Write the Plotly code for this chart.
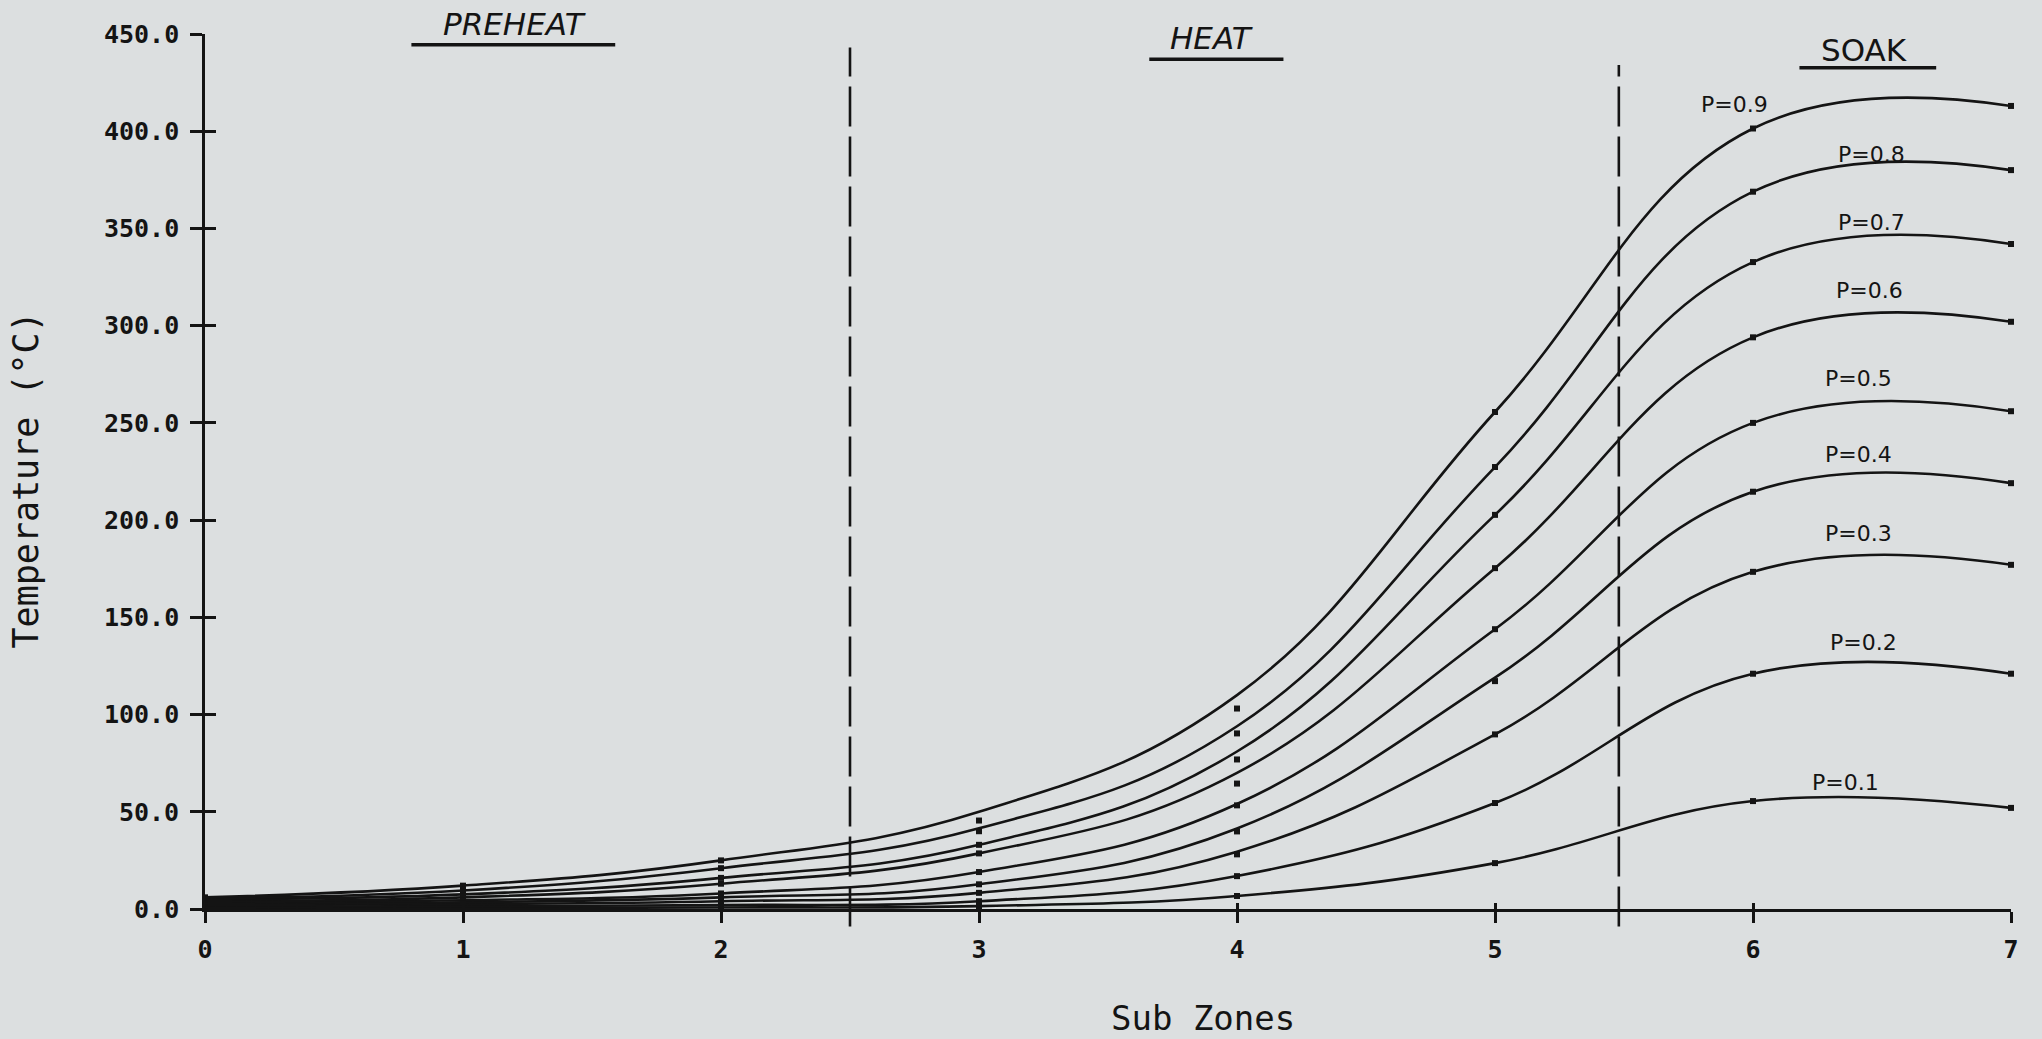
import plotly.graph_objects as go

# ---------------- data ----------------
sub_zones = [0, 1, 2, 3, 4, 5, 6, 7]
x_tick_labels = ["0", "1", "2", "3", "4", "5", "6", "7"]
y_tick_values = [0, 50, 100, 150, 200, 250, 300, 350, 400, 450]

p_labels = ["P=0.1", "P=0.2", "P=0.3", "P=0.4", "P=0.5",
            "P=0.6", "P=0.7", "P=0.8", "P=0.9"]

# plotted data points (dots) per power setting
temp_p01 = [0.5, 0.5, 0.8, 1.5, 6.7, 23.6, 55.5, 52.0]
temp_p02 = [1.0, 1.5, 2.0, 4.0, 16.9, 54.5, 121.0, 121.0]
temp_p03 = [2.0, 2.5, 4.0, 8.3, 28.1, 89.8, 173.4, 177.0]
temp_p04 = [3.0, 3.5, 6.0, 12.7, 39.9, 117.2, 214.6, 219.0]
temp_p05 = [3.5, 4.5, 8.0, 19.0, 53.3, 143.9, 250.0, 256.0]
temp_p06 = [4.0, 6.0, 13.0, 28.6, 64.5, 175.3, 294.0, 302.0]
temp_p07 = [5.0, 7.5, 16.0, 33.0, 76.9, 202.7, 332.7, 342.0]
temp_p08 = [5.5, 9.5, 21.0, 40.0, 90.3, 227.3, 368.9, 380.0]
temp_p09 = [6.0, 12.0, 25.0, 45.5, 103.1, 255.6, 401.4, 413.0]

# smoothed (fitted) curve values read at each sub zone
fit_p01 = [0.5, 0.5, 0.8, 1.5, 6.7, 23.6, 55.5, 52.0]
fit_p02 = [1.0, 1.5, 2.0, 4.0, 17.0, 54.5, 121.0, 121.0]
fit_p03 = [2.0, 2.5, 4.0, 8.3, 29.5, 89.8, 173.4, 177.0]
fit_p04 = [3.0, 3.5, 6.0, 12.7, 41.4, 119.0, 214.6, 219.0]
fit_p05 = [3.5, 4.5, 8.0, 19.0, 54.0, 143.9, 250.0, 256.0]
fit_p06 = [4.0, 6.0, 13.0, 28.6, 70.0, 175.3, 294.0, 302.0]
fit_p07 = [5.0, 7.5, 16.0, 33.0, 81.0, 202.7, 332.7, 342.0]
fit_p08 = [5.5, 9.5, 21.0, 41.5, 94.0, 227.3, 368.9, 380.0]
fit_p09 = [6.0, 12.0, 25.0, 50.0, 110.0, 255.6, 401.4, 413.0]

points = [temp_p01, temp_p02, temp_p03, temp_p04, temp_p05,
          temp_p06, temp_p07, temp_p08, temp_p09]
curves = [fit_p01, fit_p02, fit_p03, fit_p04, fit_p05,
          fit_p06, fit_p07, fit_p08, fit_p09]

zone_names = ["PREHEAT", "HEAT", "SOAK"]
zone_boundaries = [2.5, 5.48]

# ---------------- layout / style (not data) ----------------
BG = "#dcdfe0"
INK = "#141414"
label_pos = [(6.36, 65), (6.43, 137), (6.41, 193), (6.41, 234), (6.41, 273),
             (6.45, 318), (6.46, 353), (6.46, 388), (5.93, 414)]
# text x, text y, underline x0, x1, underline y, italic
zone_pos = [(1.20, 455, 0.80, 1.59, 444.5, True),
            (3.90, 448, 3.66, 4.18, 437.0, True),
            (6.43, 442, 6.18, 6.71, 432.6, False)]
boundary_tops = [443, 434]
Y_MAX = 450.0

fig = go.Figure()

for fit, pts in zip(curves, points):
    fig.add_trace(go.Scatter(
        x=sub_zones, y=fit, mode="lines",
        line=dict(color=INK, width=2.6, shape="spline", smoothing=1.2),
        cliponaxis=False, showlegend=False, hoverinfo="skip"))
    fig.add_trace(go.Scatter(
        x=sub_zones, y=pts, mode="markers",
        marker=dict(symbol="square", size=6, color=INK),
        cliponaxis=False, showlegend=False, hoverinfo="skip"))

# helper trace so the overlay axes (inner half of the crossing ticks) exist
fig.add_trace(go.Scatter(x=[None], y=[None], xaxis="x2", yaxis="y2",
                         showlegend=False, hoverinfo="skip"))

annotations = []
for txt, (ax, ay) in zip(p_labels, label_pos):
    annotations.append(dict(x=ax, y=ay, xref="x", yref="y", text=txt,
                            showarrow=False,
                            font=dict(family="DejaVu Sans", size=22, color=INK)))

shapes = []
for name, (tx, ty, ux0, ux1, uy, ital) in zip(zone_names, zone_pos):
    annotations.append(dict(x=tx, y=ty / Y_MAX, xref="x", yref="paper", text=name,
                            showarrow=False, yanchor="middle",
                            font=dict(family="DejaVu Sans", size=31, color=INK,
                                      style="italic" if ital else "normal")))
    shapes.append(dict(type="line", xref="x", yref="paper", x0=ux0, x1=ux1,
                       y0=uy / Y_MAX, y1=uy / Y_MAX, line=dict(color=INK, width=3.5)))

for bx, top in zip(zone_boundaries, boundary_tops):
    shapes.append(dict(type="line", xref="x", yref="paper", x0=bx, x1=bx,
                       y0=-0.02, y1=top / Y_MAX,
                       line=dict(color=INK, width=2.6, dash="40px,10px")))

annotations.append(dict(x=0.5526, y=-0.1246, xref="paper", yref="paper",
                        text="Sub Zones", showarrow=False, yanchor="middle",
                        font=dict(family="DejaVu Sans Mono", size=34, color=INK)))
annotations.append(dict(x=-0.099, y=0.49, xref="paper", yref="paper",
                        text="Temperature (°C)", showarrow=False, textangle=-90,
                        xanchor="center", yanchor="middle",
                        font=dict(family="DejaVu Sans Mono", size=35, color=INK)))

tickfont = dict(family="DejaVu Sans Mono", size=25, color=INK, weight="bold")

fig.update_layout(
    width=2042, height=1039,
    margin=dict(l=205, r=31, t=34, b=130),
    paper_bgcolor=BG, plot_bgcolor=BG,
    showlegend=False,
    xaxis=dict(range=[0, 7], tickvals=sub_zones, ticktext=x_tick_labels,
               ticks="outside", ticklen=11, tickwidth=2.5, tickcolor=INK,
               showline=True, linewidth=2.6, linecolor=INK,
               showgrid=False, zeroline=False, tickfont=tickfont,
               ticklabelstandoff=5, fixedrange=True),
    yaxis=dict(range=[0, Y_MAX], tickvals=y_tick_values, tickformat=".1f",
               ticks="outside", ticklen=12, tickwidth=2.5, tickcolor=INK,
               showline=True, linewidth=2.6, linecolor=INK,
               showgrid=False, zeroline=False, tickfont=tickfont,
               ticklabelstandoff=6, fixedrange=True),
    xaxis2=dict(range=[0, 7], overlaying="x", anchor="y2", side="bottom",
                tickvals=sub_zones, ticks="inside", ticklen=6, tickwidth=2.5,
                tickcolor=INK, showticklabels=False, showline=False,
                showgrid=False, zeroline=False, fixedrange=True),
    yaxis2=dict(range=[0, Y_MAX], overlaying="y", anchor="x2", side="left",
                tickvals=y_tick_values, ticks="inside", ticklen=11, tickwidth=2.5,
                tickcolor=INK, showticklabels=False, showline=False,
                showgrid=False, zeroline=False, fixedrange=True),
    annotations=annotations,
    shapes=shapes,
)

fig.write_html("out.html", config={"displayModeBar": False})
